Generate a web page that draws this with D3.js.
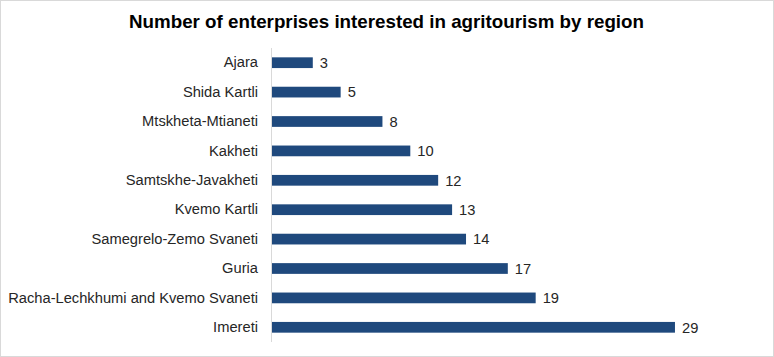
<!DOCTYPE html>
<html><head><meta charset="utf-8">
<script src="https://cdn.jsdelivr.net/npm/d3@7"></script>
<style>body{margin:0;background:#fff;}svg{display:block;font-family:"Liberation Sans",Arial,sans-serif;}</style>
</head><body><svg id="c" width="774" height="357"></svg>
<script>
const title = "Number of enterprises interested in agritourism by region";
const regions = ["Ajara","Shida Kartli","Mtskheta-Mtianeti","Kakheti","Samtskhe-Javakheti","Kvemo Kartli","Samegrelo-Zemo Svaneti","Guria","Racha-Lechkhumi and Kvemo Svaneti","Imereti"];
const counts = [3,5,8,10,12,13,14,17,19,29];

const svg = d3.select("#c");
const W = 774, H = 357;
svg.append("rect").attr("x",0.5).attr("y",0.5).attr("width",W-1).attr("height",H-1)
  .attr("fill","#fff").attr("stroke","#d9d9d9");

const x0 = 271;
const x = d3.scaleLinear().domain([0,29]).range([x0, x0 + 29*13.93]);
const y = d3.scaleBand().domain(regions).range([48,342]).paddingInner(0.635).paddingOuter(0.3175);

const t = svg.append("text").attr("x",386.5).attr("y",28).attr("text-anchor","middle")
  .attr("font-size","18.5px").attr("font-weight","bold").attr("fill","#000").text(title);
t.attr("textLength",515).attr("lengthAdjust","spacingAndGlyphs");

const data = regions.map((r,i)=>({r, v: counts[i]}));
svg.append("g").selectAll("rect").data(data).join("rect")
  .attr("x", x(0)).attr("y", d=>y(d.r)).attr("width", d=>x(d.v)-x(0)).attr("height", y.bandwidth())
  .attr("fill","#1f497d");

svg.append("g").selectAll("text").data(data).join("text")
  .attr("x", d=>x(d.v)+7).attr("y", d=>y(d.r)+y.bandwidth()/2).attr("dy","0.36em")
  .attr("font-size","14.7px").attr("fill","#262626").text(d=>d.v);

const ax = svg.append("g").attr("transform",`translate(${x0},0)`)
  .call(d3.axisLeft(y).tickSize(0).tickPadding(13));
ax.select(".domain").attr("stroke","#d9d9d9").attr("d","M0.5,48V342");
ax.selectAll("text").attr("font-size","14.7px").attr("fill","#262626").attr("font-family","Liberation Sans, Arial, sans-serif");
</script></body></html>
